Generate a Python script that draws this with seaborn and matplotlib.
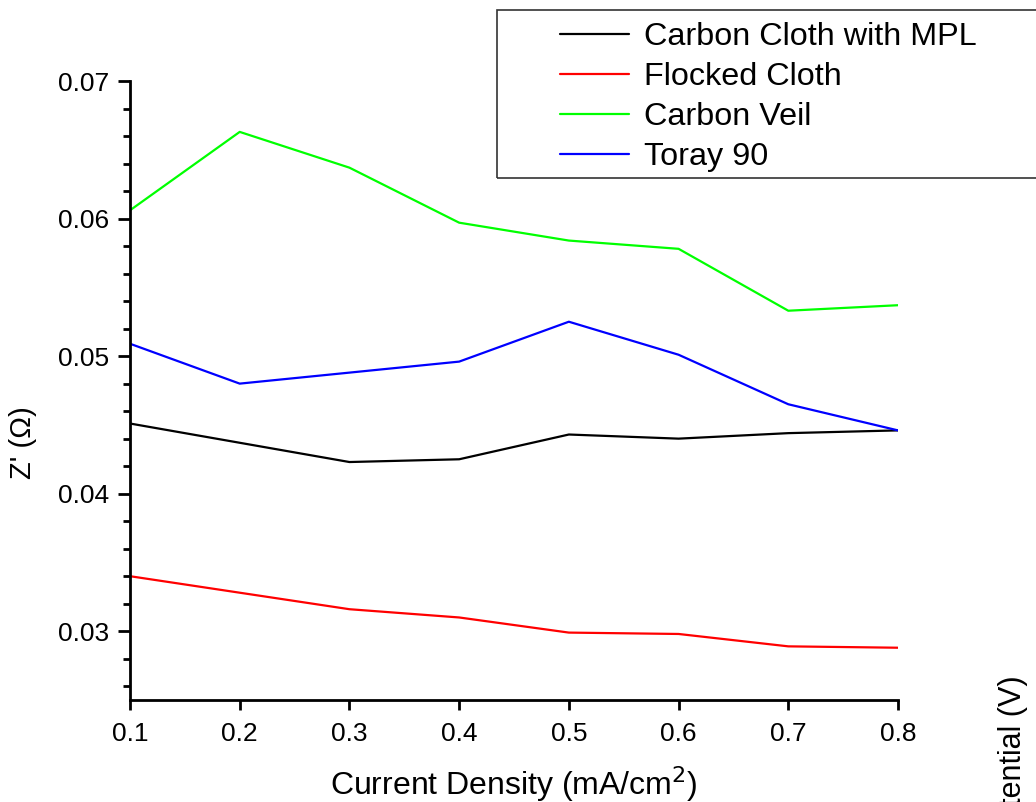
import pandas as pd
import seaborn as sns
import matplotlib.pyplot as plt
from matplotlib.patches import Rectangle
from matplotlib.ticker import MultipleLocator

# Values
current_density = [0.1, 0.2, 0.3, 0.4, 0.5, 0.6, 0.7, 0.8]
carbon_cloth_mpl = [0.0451, 0.0437, 0.0423, 0.0425, 0.0443, 0.0440, 0.0444, 0.0446]
flocked_cloth = [0.0340, 0.0328, 0.0316, 0.0310, 0.0299, 0.0298, 0.0289, 0.0288]
carbon_veil = [0.0606, 0.0663, 0.0637, 0.0597, 0.0584, 0.0578, 0.0533, 0.0537]
toray_90 = [0.0509, 0.0480, 0.0488, 0.0496, 0.0525, 0.0501, 0.0465, 0.0446]

series_names = ["Carbon Cloth with MPL", "Flocked Cloth", "Carbon Veil", "Toray 90"]
series_values = [carbon_cloth_mpl, flocked_cloth, carbon_veil, toray_90]
series_colors = ["#000000", "#ff0000", "#00ff00", "#0000ff"]

# Build a long-form table for seaborn
df = pd.concat(
    [
        pd.DataFrame({"x": current_density, "z": vals, "sample": name})
        for name, vals in zip(series_names, series_values)
    ],
    ignore_index=True,
)

sns.set_style("ticks")
plt.rcParams["font.family"] = ["Liberation Sans", "DejaVu Sans"]
plt.rcParams.update({
    "text.color": "black",
    "axes.labelcolor": "black",
    "axes.edgecolor": "black",
    "xtick.color": "black",
    "ytick.color": "black",
})

fig = plt.figure(figsize=(10.36, 8.02), dpi=100)
ax = fig.add_axes([130 / 1036, 1 - 700 / 802, 768 / 1036, 619 / 802])

sns.lineplot(
    data=df,
    x="x",
    y="z",
    hue="sample",
    hue_order=series_names,
    palette=series_colors,
    linewidth=1.6,
    ax=ax,
    legend=False,
)

ax.set_xlim(0.1, 0.8)
ax.set_ylim(0.025, 0.07)
ax.set_xticks(current_density)
ax.set_xticklabels([f"{v:.1f}" for v in current_density])
ax.set_yticks([0.03, 0.04, 0.05, 0.06, 0.07])
ax.set_yticklabels(["0.03", "0.04", "0.05", "0.06", "0.07"])
ax.yaxis.set_minor_locator(MultipleLocator(0.002))

for side in ["top", "right"]:
    ax.spines[side].set_visible(False)
for side in ["left", "bottom"]:
    ax.spines[side].set_linewidth(2)

ax.tick_params(axis="y", which="major", direction="out", length=9, width=2,
               labelsize=19, pad=6)
ax.tick_params(axis="y", which="minor", direction="out", length=5, width=2)
ax.tick_params(axis="x", which="major", direction="out", length=7, width=2,
               labelsize=19, pad=9)

ax.set_xlabel("Current Density (mA/cm$^2$)", fontsize=23, labelpad=13)
ax.set_ylabel("Z' (\u03a9)", fontsize=21)
ax.yaxis.set_label_coords(-0.121, 0.415)

# Cut-off right-axis label from the original layout
fig.text(1013 / 1036, 1 - 675 / 802, "Potential (V)", rotation=90,
         ha="center", va="top", fontsize=22)

# Legend box that runs off the right edge
fig.patches.append(
    Rectangle((497 / 1036, 1 - 178 / 802), 560 / 1036, 168 / 802,
              transform=fig.transFigure, fill=False, edgecolor="#333333",
              linewidth=1.2)
)
handles = [plt.Line2D([], [], color=c, linewidth=1.6) for c in series_colors]
fig.legend(
    handles,
    series_names,
    loc="upper left",
    bbox_to_anchor=(560 / 1036, 1 - 22 / 802),
    frameon=False,
    fontsize=23.3,
    handlelength=2.13,
    handletextpad=0.46,
    labelspacing=0.31,
    borderpad=0,
    borderaxespad=0,
)

fig.savefig("out.png", dpi=100)
